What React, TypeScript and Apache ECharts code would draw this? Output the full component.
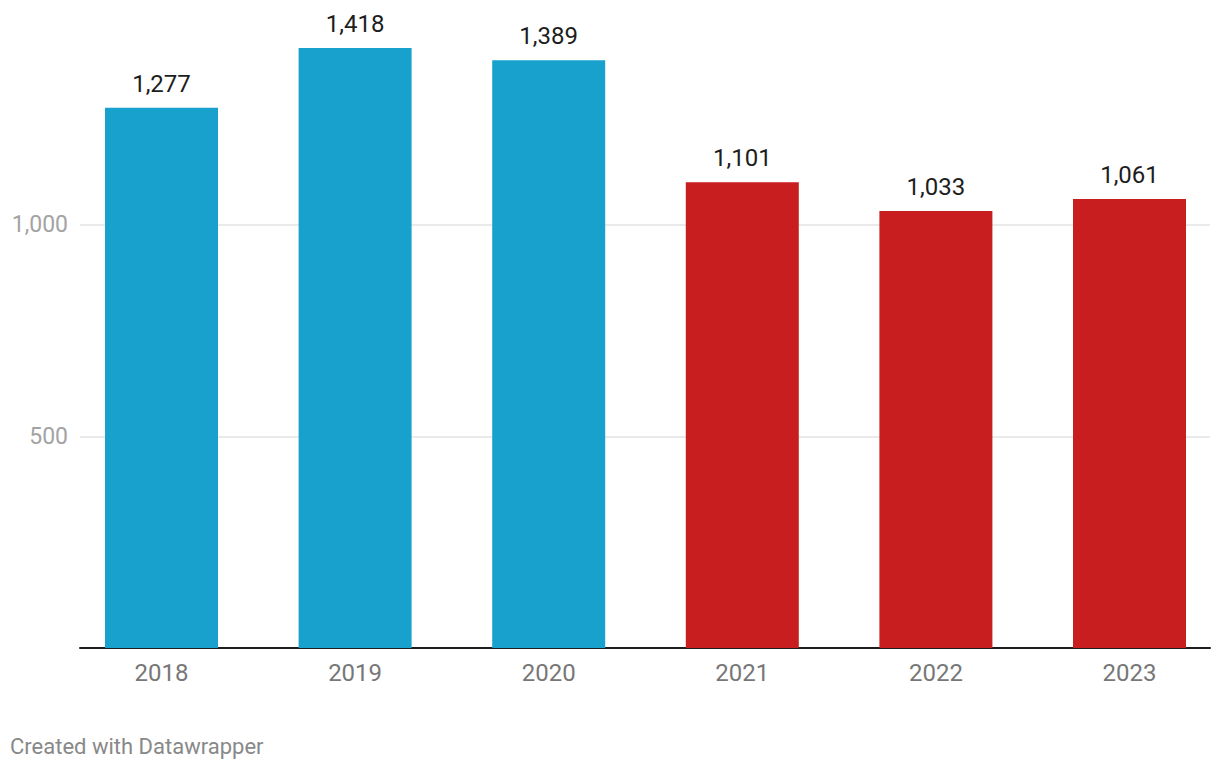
import React, { useEffect, useRef } from "react";
import * as echarts from "echarts";

const years = ["2018", "2019", "2020", "2021", "2022", "2023"];
const values = [1277, 1418, 1389, 1101, 1033, 1061];
const groups = ["before", "before", "before", "after", "after", "after"];
const groupColors: Record<string, string> = { before: "#19a1cd", after: "#c91e1f" };
const yTicks = [500, 1000];
const footer = "Created with Datawrapper";

export default function App() {
  const ref = useRef<HTMLDivElement>(null);
  useEffect(() => {
    if (!ref.current) return;
    const chart = echarts.init(ref.current, undefined, { renderer: "svg" });
    const yMax = 1418;
    const font = "Roboto, 'Noto Sans', sans-serif";
    chart.setOption({
      animation: false,
      textStyle: { fontFamily: font },
      grid: [
        { left: 80, width: 1130, top: 48, bottom: 122 },
        { left: 64.7, width: 1161.6, top: 48, bottom: 122 },
      ],
      xAxis: [
        {
          gridIndex: 0,
          type: "value",
          min: 0,
          max: 1,
          axisLine: { show: true, onZero: false, lineStyle: { color: "#1d1d1d", width: 2 } },
          axisTick: { show: false },
          axisLabel: { show: false },
          splitLine: { show: false },
        },
        {
          gridIndex: 1,
          type: "category",
          data: years,
          axisLine: { show: false },
          axisTick: { show: false },
          axisLabel: { color: "#777777", fontSize: 24, margin: 13, fontFamily: font },
        },
      ],
      yAxis: [
        {
          gridIndex: 0,
          type: "value",
          min: 0,
          max: yMax,
          interval: 500,
          axisLine: { show: false },
          axisTick: { show: false },
          axisLabel: {
            color: "#a3a3a3",
            fontSize: 23,
            margin: 12,
            fontFamily: font,
            formatter: (v: number) => (yTicks.includes(v) ? v.toLocaleString("en-US") : ""),
          },
          splitLine: {
            show: true,
            showMinLine: false,
            showMaxLine: false,
            lineStyle: { color: "#e3e3e3", width: 1.5 },
          },
        },
        {
          gridIndex: 1,
          type: "value",
          min: 0,
          max: yMax,
          show: false,
          splitLine: { show: false },
        },
      ],
      series: [
        {
          type: "bar",
          xAxisIndex: 1,
          yAxisIndex: 1,
          barWidth: 113,
          data: values.map((v, i) => ({ value: v, itemStyle: { color: groupColors[groups[i]] } })),
          label: {
            show: true,
            position: "top",
            distance: 12,
            color: "#1d1d1d",
            fontSize: 24,
            fontFamily: font,
            formatter: (p: any) => Number(p.value).toLocaleString("en-US"),
          },
          z: 3,
        },
      ],
      graphic: [
        {
          type: "text",
          left: 10,
          top: 735,
          style: { text: footer, fill: "#888888", fontSize: 22, fontFamily: font },
        },
      ],
    });
    return () => chart.dispose();
  }, []);
  return (
    <div
      ref={ref}
      style={{ position: "fixed", left: 0, top: 0, width: 1240, height: 770, background: "#fff" }}
    />
  );
}
